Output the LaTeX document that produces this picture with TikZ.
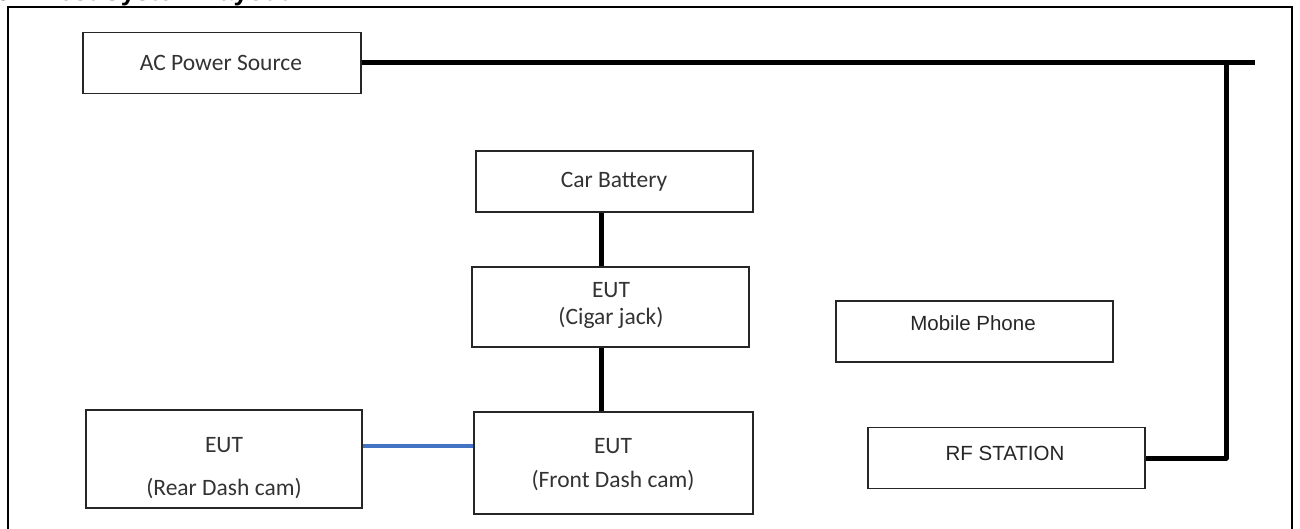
\documentclass[tikz,border=0pt]{standalone}
\usepackage{fontspec}
\setmainfont{Liberation Sans}
\newfontfamily\mgfont{Carlito}
\begin{document}
\begin{tikzpicture}[x=1pt,y=-1pt,
  box/.style={draw=black!85, line width=1.6pt, inner sep=0pt, fill=white},
  mg/.style={font=\mgfont\fontsize{23.5}{27}\selectfont, text=black!80, inner sep=0pt},
  ar/.style={font=\fontsize{20.5}{25}\selectfont, text=black!85, inner sep=0pt},
  thickwire/.style={line width=5pt, black},
  bluewire/.style={line width=4pt, color=wireblue}]
\definecolor{wireblue}{HTML}{4472C4}
\useasboundingbox (0,0) rectangle (1300,529);
\begin{scope}
\clip (0,0) rectangle (1300,529);
% clipped title
\node[anchor=base west, inner sep=0pt, font=\bfseries\fontsize{26}{30}\selectfont] (title) at (-4,1) {3.\hspace{27pt}Test System Layout};
% outer frame
\draw[line width=2.5pt] (8,560) -- (8,7) -- (1292,7) -- (1292,560);
\end{scope}
% boxes
\node[box, minimum width=278pt, minimum height=61pt] (ac) at (222,63) {};
\node[box, minimum width=277pt, minimum height=61pt] (bat) at (614.5,181.5) {};
\node[box, minimum width=277pt, minimum height=80pt] (cig) at (610.5,307) {};
\node[box, minimum width=279pt, minimum height=102pt] (front) at (613.5,463) {};
\node[box, minimum width=276pt, minimum height=98pt] (rear) at (224,459) {};
\node[box, minimum width=277pt, minimum height=61pt] (mob) at (974.5,331.5) {};
\node[box, minimum width=277pt, minimum height=61pt] (rf) at (1006.5,458) {};
% texts
\node[mg] (tac) at (221,63) {AC Power Source};
\node[mg] (tbat) at (614,182) {Car Battery};
\node[mg] (tcig1) at (611,290) {EUT};
\node[mg] (tcig2) at (611,318) {(Cigar jack)};
\node[mg] (tfr1) at (613,446) {EUT};
\node[mg] (tfr2) at (613,481) {(Front Dash cam)};
\node[mg] (tre1) at (224,445) {EUT};
\node[mg] (tre2) at (224,489) {(Rear Dash cam)};
\node[ar] (tmob) at (973,323) {Mobile Phone};
\node[ar] (trf) at (1005,453) {RF STATION};
% connectors
\coordinate (acend) at (1255,63);
\coordinate (tj) at (1226,63);
\coordinate (bj) at (1226,458);
\coordinate (cx) at (601,0);
\coordinate (by) at (0,446);
\draw[thickwire] (ac.east) -- (acend);
\draw[thickwire, line join=round] (tj) -- (bj) -- (rf.east);
\draw[thickwire] (cx |- bat.south) -- (cx |- cig.north);
\draw[thickwire] (cx |- cig.south) -- (cx |- front.north);
\draw[bluewire] (by -| rear.east) -- (by -| front.west);
\end{tikzpicture}
\end{document}
